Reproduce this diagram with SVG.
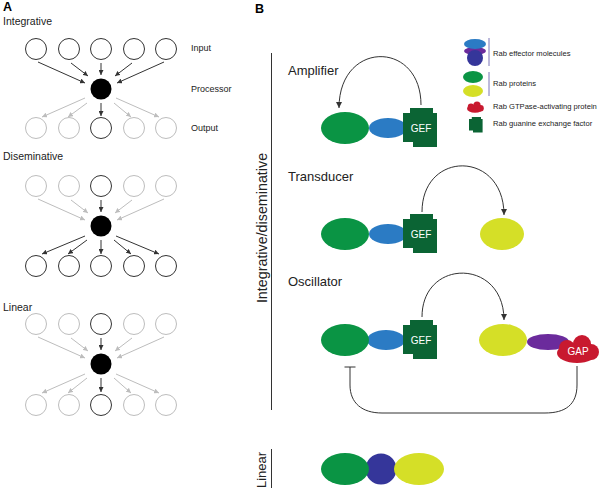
<svg xmlns="http://www.w3.org/2000/svg" xmlns:xlink="http://www.w3.org/1999/xlink" width="602" height="491" viewBox="0 0 602 491">
<style>
text{font-family:"Liberation Sans",Arial,sans-serif;fill:#222}
.pl{font-weight:bold;font-size:12.5px;fill:#000}
.tt{font-size:10.5px}
.lb{font-size:9px}
.bt{font-size:13px}
.lg{font-size:7.6px}
.gef{font-size:10px;fill:#fff}
.cd{fill:#fff;stroke:#333;stroke-width:1}
.cg{fill:#fff;stroke:#bdbdbd;stroke-width:1}
.ad{stroke:#333;stroke-width:1;fill:none;marker-end:url(#mad)}
.ag{stroke:#bdbdbd;stroke-width:1;fill:none;marker-end:url(#mag)}
.arc{stroke:#333;stroke-width:1;fill:none}
.green{fill:#0a9444}
.blue{fill:#2b7bc4}
.gefc{fill:#0b6434}
.yellow{fill:#d5df27}
.purple{fill:#6b2b9c}
.indigo{fill:#35369a}
.red{fill:#c8192f}
</style>
<defs>
<marker id="mad" viewBox="0 0 10 10" refX="10" refY="5" markerWidth="5" markerHeight="5" orient="auto" markerUnits="userSpaceOnUse"><path d="M0,0 L10,5 L0,10 z" fill="#333"/></marker>
<marker id="mag" viewBox="0 0 10 10" refX="10" refY="5" markerWidth="5" markerHeight="5" orient="auto" markerUnits="userSpaceOnUse"><path d="M0,0 L10,5 L0,10 z" fill="#bdbdbd"/></marker>
<marker id="mb" viewBox="0 0 10 10" refX="10" refY="5" markerWidth="6" markerHeight="6" orient="auto" markerUnits="userSpaceOnUse"><path d="M0,0 L10,5 L0,10 z" fill="#333"/></marker>
<path id="gefshape" class="gefc" d="M7,0 L30,0 L30,5 L34,5 L34,39 L10,39 L10,34 L0,34 L0,5 L7,5 Z"/>
<g id="gapshape" class="red">
<ellipse cx="0" cy="3" rx="20" ry="10"/>
<circle cx="5" cy="-6" r="9"/>
<circle cx="-10" cy="-2" r="8"/>
<circle cx="14" cy="2" r="8"/>
</g>
</defs>

<text class="pl" x="3" y="11">A</text>
<text class="pl" x="255" y="13">B</text>

<!-- Panel A: Integrative -->
<g id="integrative">
<text class="tt" x="3" y="25">Integrative</text>
<g id="int-inputs">
<circle class="cd" cx="36" cy="49" r="10.5"/><circle class="cd" cx="69" cy="49" r="10.5"/><circle class="cd" cx="101" cy="49" r="10.5"/><circle class="cd" cx="134" cy="49" r="10.5"/><circle class="cd" cx="166" cy="49" r="10.5"/>
</g>
<circle id="int-processor" cx="101" cy="89" r="10.5" fill="#000"/>
<g id="int-outputs">
<circle class="cg" cx="36" cy="128" r="10.5"/><circle class="cg" cx="69" cy="128" r="10.5"/><circle class="cd" cx="101" cy="128" r="10.5"/><circle class="cg" cx="134" cy="128" r="10.5"/><circle class="cg" cx="166" cy="128" r="10.5"/>
</g>
<g id="int-connectors">
<line class="ad" x1="38" y1="62" x2="85" y2="83"/>
<line class="ad" x1="71" y1="63" x2="88" y2="76"/>
<line class="ad" x1="101" y1="63" x2="101" y2="75"/>
<line class="ad" x1="132" y1="63" x2="115" y2="76"/>
<line class="ad" x1="164" y1="62" x2="117" y2="83"/>
<line class="ag" x1="85" y1="98" x2="42" y2="117"/>
<line class="ag" x1="87" y1="103" x2="68" y2="117"/>
<line class="ad" x1="101" y1="103" x2="101" y2="116"/>
<line class="ag" x1="114" y1="103" x2="131" y2="117"/>
<line class="ag" x1="116" y1="98" x2="159" y2="117"/>
</g>
<text class="lb" x="191" y="51">Input</text>
<text class="lb" x="191" y="92">Processor</text>
<text class="lb" x="191" y="131">Output</text>
</g>

<!-- Panel A: Diseminative -->
<g id="diseminative">
<text class="tt" x="3" y="160">Diseminative</text>
<g transform="translate(0,137)">
<g id="dis-inputs">
<circle class="cg" cx="36" cy="49" r="10.5"/><circle class="cg" cx="69" cy="49" r="10.5"/><circle class="cd" cx="101" cy="49" r="10.5"/><circle class="cg" cx="134" cy="49" r="10.5"/><circle class="cg" cx="166" cy="49" r="10.5"/>
</g>
<circle id="dis-processor" cx="101" cy="89" r="10.5" fill="#000"/>
<g id="dis-outputs">
<circle class="cd" cx="36" cy="129" r="10.5"/><circle class="cd" cx="69" cy="129" r="10.5"/><circle class="cd" cx="101" cy="129" r="10.5"/><circle class="cd" cx="134" cy="129" r="10.5"/><circle class="cd" cx="166" cy="129" r="10.5"/>
</g>
<g id="dis-connectors">
<line class="ag" x1="38" y1="62" x2="85" y2="83"/>
<line class="ag" x1="71" y1="63" x2="88" y2="76"/>
<line class="ad" x1="101" y1="63" x2="101" y2="75"/>
<line class="ag" x1="132" y1="63" x2="115" y2="76"/>
<line class="ag" x1="164" y1="62" x2="117" y2="83"/>
<line class="ad" x1="85" y1="99" x2="42" y2="117"/>
<line class="ad" x1="87" y1="103" x2="68" y2="117"/>
<line class="ad" x1="101" y1="103" x2="101" y2="117"/>
<line class="ad" x1="114" y1="103" x2="131" y2="117"/>
<line class="ad" x1="116" y1="99" x2="159" y2="117"/>
</g>
</g>
</g>

<!-- Panel A: Linear -->
<g id="linear-a">
<text class="tt" x="3" y="311">Linear</text>
<g transform="translate(0,275)">
<g id="lin-inputs">
<circle class="cg" cx="36" cy="49" r="10.5"/><circle class="cg" cx="69" cy="49" r="10.5"/><circle class="cd" cx="101" cy="49" r="10.5"/><circle class="cg" cx="134" cy="49" r="10.5"/><circle class="cg" cx="166" cy="49" r="10.5"/>
</g>
<circle id="lin-processor" cx="101" cy="89" r="10.5" fill="#000"/>
<g id="lin-outputs">
<circle class="cg" cx="36" cy="130" r="10.5"/><circle class="cg" cx="69" cy="130" r="10.5"/><circle class="cd" cx="101" cy="130" r="10.5"/><circle class="cg" cx="134" cy="130" r="10.5"/><circle class="cg" cx="166" cy="130" r="10.5"/>
</g>
<g id="lin-connectors">
<line class="ag" x1="38" y1="62" x2="85" y2="83"/>
<line class="ag" x1="71" y1="63" x2="88" y2="76"/>
<line class="ad" x1="101" y1="63" x2="101" y2="75"/>
<line class="ag" x1="132" y1="63" x2="115" y2="76"/>
<line class="ag" x1="164" y1="62" x2="117" y2="83"/>
<line class="ag" x1="85" y1="99" x2="42" y2="118"/>
<line class="ag" x1="87" y1="103" x2="68" y2="118"/>
<line class="ad" x1="101" y1="103" x2="101" y2="117"/>
<line class="ag" x1="114" y1="103" x2="131" y2="118"/>
<line class="ag" x1="116" y1="99" x2="159" y2="118"/>
</g>
</g>
</g>

<!-- Panel B axis labels -->
<g id="axis-labels">
<line x1="271.5" y1="53" x2="271.5" y2="410" stroke="#333" stroke-width="1"/>
<text x="267" y="228" font-size="14.3" text-anchor="middle" transform="rotate(-90 267 228)" style="font-size:14.3px">Integrative/diseminative</text>
<line x1="271.5" y1="449" x2="271.5" y2="488" stroke="#333" stroke-width="1"/>
<text x="266" y="470" text-anchor="middle" transform="rotate(-90 266 470)" style="font-size:13px">Linear</text>
</g>

<!-- Legend -->
<g id="legend">
<ellipse class="purple" cx="475" cy="51" rx="11" ry="4"/>
<circle class="indigo" cx="475" cy="58" r="8"/>
<ellipse class="blue" cx="475" cy="44" rx="11" ry="5"/>
<line x1="489" y1="38" x2="489" y2="66" stroke="#7a74b8" stroke-width="1"/>
<text class="lg" x="493" y="56">Rab effector molecules</text>
<ellipse class="green" cx="473" cy="77" rx="10" ry="6"/>
<ellipse class="yellow" cx="473" cy="91" rx="10" ry="6"/>
<line x1="489" y1="72" x2="489" y2="96" stroke="#7a74b8" stroke-width="1"/>
<text class="lg" x="493" y="86">Rab proteins</text>
<use xlink:href="#gapshape" transform="translate(475,107.5) scale(0.4)"/>
<text class="lg" x="493" y="109">Rab GTPase-activating protein</text>
<use xlink:href="#gefshape" transform="translate(469,117) scale(0.4)"/>
<text class="lg" x="493" y="126">Rab guanine exchange factor</text>
</g>

<!-- Amplifier -->
<g id="amplifier">
<text class="bt" x="288" y="75">Amplifier</text>
<ellipse class="blue" cx="388" cy="128" rx="19" ry="10"/>
<ellipse class="green" cx="345" cy="128" rx="24" ry="16"/>
<use xlink:href="#gefshape" x="403" y="108"/>
<text class="gef" x="421" y="132" text-anchor="middle">GEF</text>
</g>

<!-- Transducer -->
<g id="transducer">
<text class="bt" x="288" y="181">Transducer</text>
<ellipse class="blue" cx="388" cy="234" rx="19" ry="10"/>
<ellipse class="green" cx="345" cy="234" rx="24" ry="16"/>
<use xlink:href="#gefshape" x="403" y="214"/>
<text class="gef" x="421" y="238" text-anchor="middle">GEF</text>
<ellipse class="yellow" cx="502" cy="234" rx="22" ry="16"/>
</g>

<!-- Oscillator -->
<g id="oscillator">
<text class="bt" x="288" y="286">Oscillator</text>
<ellipse class="blue" cx="386" cy="340" rx="19" ry="10"/>
<ellipse class="green" cx="345" cy="340" rx="24" ry="16"/>
<use xlink:href="#gefshape" x="403" y="320"/>
<text class="gef" x="421" y="344" text-anchor="middle">GEF</text>
<ellipse class="yellow" cx="503" cy="340" rx="24" ry="16"/>
<ellipse class="purple" cx="548" cy="342" rx="21" ry="8"/>
<use xlink:href="#gapshape" transform="translate(577,350)"/>
<text class="gef" x="578" y="355" text-anchor="middle">GAP</text>
</g>

<!-- Linear B -->
<g id="linear-b">
<circle class="indigo" cx="381" cy="469" r="15.5"/>
<ellipse class="green" cx="345" cy="469" rx="24" ry="16"/>
<ellipse class="yellow" cx="419" cy="469" rx="25" ry="16"/>
</g>

<!-- Connectors panel B -->
<g id="connectors">
<path class="arc" d="M421,105 C421,40 339,40 339,108" marker-end="url(#mb)"/>
<path class="arc" d="M422,212 C422,150 504,150 504,215" marker-end="url(#mb)"/>
<path class="arc" d="M422,317 C422,258 504,258 504,320" marker-end="url(#mb)"/>
<path class="arc" d="M577,366 L577,385 C577,405 565,413 545,413 L382,413 C362,413 350,403 350,385 L350,367"/>
<line x1="344.5" y1="367" x2="355.5" y2="367" stroke="#333" stroke-width="1"/>
</g>
</svg>
